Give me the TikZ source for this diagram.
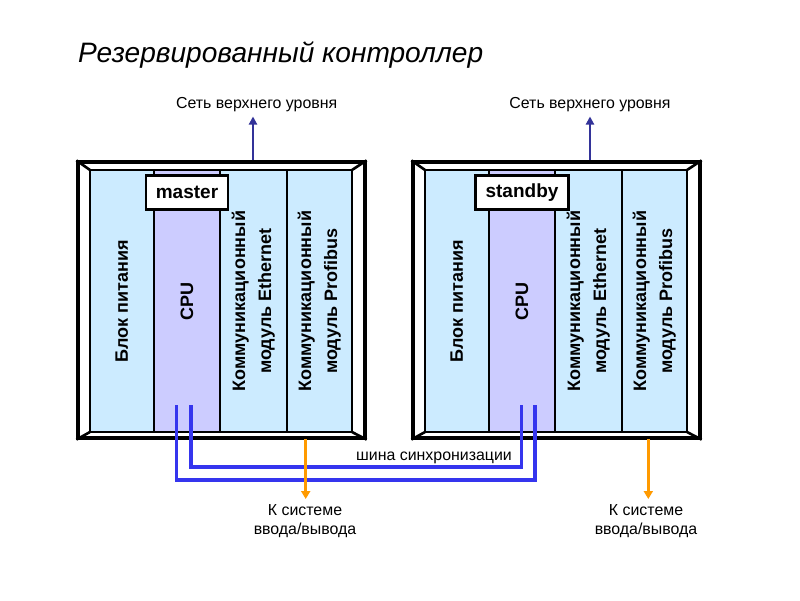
\documentclass[tikz,border=0pt]{standalone}
\usepackage{fontspec}
\setmainfont{Liberation Sans}
\usetikzlibrary{arrows.meta}
\definecolor{psfill}{HTML}{CCEBFF}
\definecolor{cpufill}{HTML}{CCCCFF}
\definecolor{wirec}{HTML}{3535EE}
\definecolor{netc}{HTML}{333399}
\definecolor{ioc}{HTML}{FF9A00}
\tikzset{
  framebox/.style={draw=black, line width=3.2pt, fill=white, minimum width=287pt, minimum height=276pt, inner sep=0pt},
  col/.style={rotate=90, draw=black, line width=2.4pt, minimum width=262pt, inner sep=0pt, align=center,
    font=\bfseries\fontsize{18}{26}\selectfont},
  rolebox/.style={draw=black, line width=2.4pt, fill=white, minimum height=34pt, inner xsep=10pt, inner ysep=0pt,
    font=\bfseries\fontsize{19}{22}\selectfont},
  small/.style={inner sep=0pt, font=\fontsize{15.9}{19}\selectfont},
  wire/.style={draw=wirec, line width=3.3pt},
  netarrow/.style={draw=netc, line width=2.8pt, -{Triangle[width=8pt,length=8pt]}},
  ioarrow/.style={draw=ioc, line width=3.2pt, -{Triangle[width=9pt,length=8pt]}},
  thin frame/.style={draw=black, line width=2.6pt}
}
\newcommand\rackunit[3]{%
\begin{scope}[xshift=#1]
  \node[framebox] (#2frame) at (221.5,300) {};
  \node[col, fill=psfill, minimum height=63.7pt] (#2ps) at (121.85,301) {Блок питания};
  \node[col, fill=cpufill, minimum height=66.3pt] (#2cpu) at (186.85,301) {CPU};
  \node[col, fill=psfill, minimum height=66.7pt] (#2eth) at (253.35,301) {Коммуникационный\\модуль Ethernet};
  \node[col, fill=psfill, minimum height=65.3pt] (#2pb) at (319.35,301) {Коммуникационный\\модуль Profibus};
  \draw[thin frame] (90,170) rectangle (352,432);
  \draw[thin frame] (#2frame.north west) -- (90,170);
  \draw[thin frame] (#2frame.north east) -- (352,170);
  \draw[thin frame] (#2frame.south west) -- (90,432);
  \draw[thin frame] (#2frame.south east) -- (352,432);
  \node[rolebox] (#2role) at (187,192.5) {#3};
\end{scope}}
\begin{document}
\begin{tikzpicture}[x=1pt,y=-1pt]
\useasboundingbox (0,0) rectangle (800,600);
\fill[white] (0,0) rectangle (800,600);
\node[anchor=base west, inner sep=0pt, font=\itshape\fontsize{28.1}{30}\selectfont] (title) at (78,62) {Резервированный контроллер};

\rackunit{0pt}{L}{master}
\rackunit{335pt}{R}{standby}

% upper network
\node[small, anchor=base] (Lnet) at (256.7,108) {Сеть верхнего уровня};
\node[small, anchor=base] (Rnet) at (590,108) {Сеть верхнего уровня};
\coordinate (Lnettip) at (253,116.5);
\coordinate (Rnettip) at (590,116.5);
\draw[netarrow] (Lframe.north -| Lnettip) -- (Lnettip);
\draw[netarrow] (Rframe.north -| Rnettip) -- (Rnettip);

% sync bus
\coordinate (Lw1) at (176.7,405);
\coordinate (Lw2) at (191,405);
\coordinate (Rw1) at (521.7,405);
\coordinate (Rw2) at (535,405);
\draw[wire] (Lw2) -- ++(0,62) -| (Rw1);
\draw[wire] (Lw1) -- ++(0,75) -| (Rw2);
\node[small, anchor=base] (sync) at (434,460) {шина синхронизации};

% I/O
\node[small, align=center, anchor=north] (Lio) at (305,504) {К системе\\ввода/вывода};
\node[small, align=center, anchor=north] (Rio) at (646,504) {К системе\\ввода/вывода};
\coordinate (Liotop) at (305.7,439);
\coordinate (Riotop) at (648.3,439);
\draw[ioarrow, shorten >=5pt] (Liotop) -- (Liotop |- Lio.north);
\draw[ioarrow, shorten >=5pt] (Riotop) -- (Riotop |- Rio.north);
\end{tikzpicture}
\end{document}
